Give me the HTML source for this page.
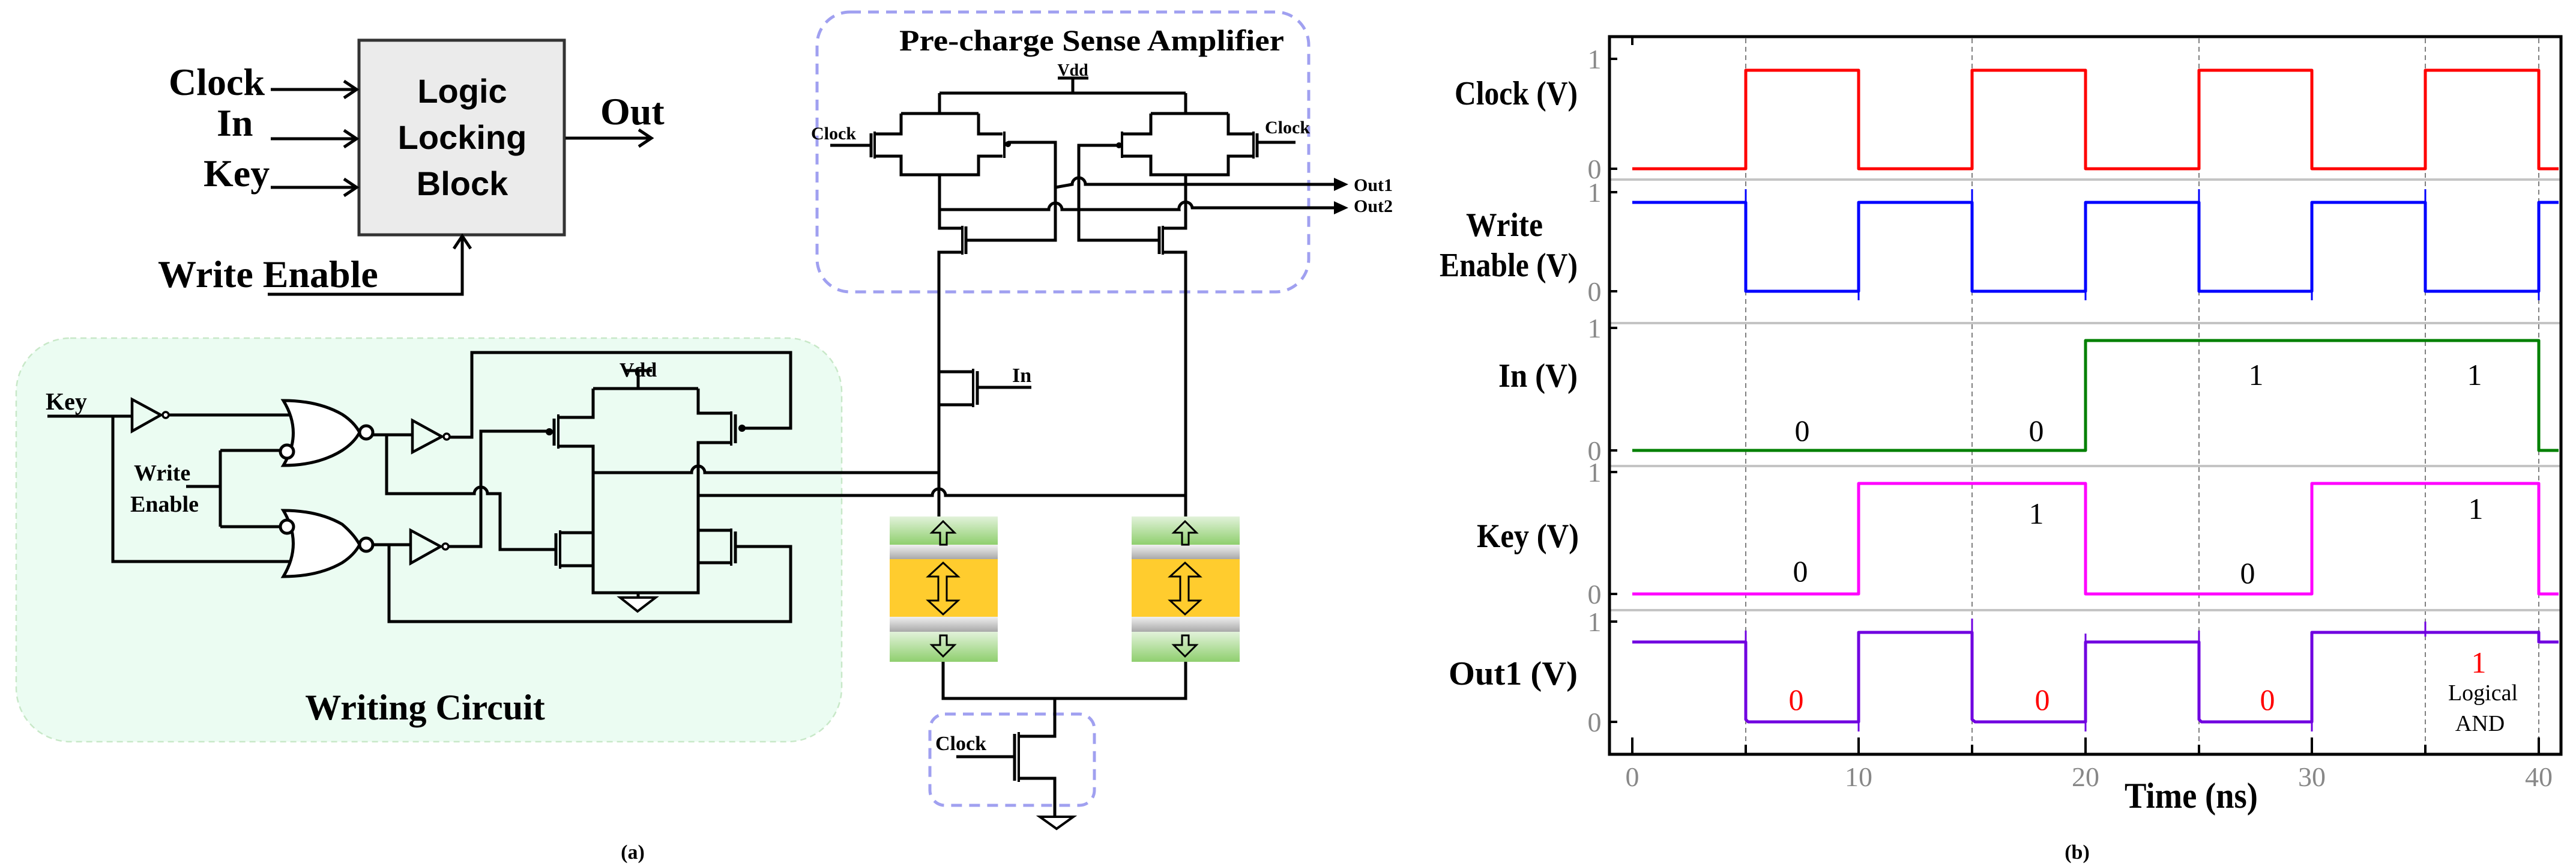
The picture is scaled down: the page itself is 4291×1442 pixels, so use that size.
<!DOCTYPE html>
<html><head><meta charset="utf-8"><style>
html,body{margin:0;padding:0;background:#fff;}
svg{display:block;}
</style></head><body>
<svg width="4291" height="1442" viewBox="0 0 4291 1442" xmlns="http://www.w3.org/2000/svg">
<defs>
<linearGradient id="gg" x1="0" y1="0" x2="0" y2="1"><stop offset="0" stop-color="#e2f2da"/><stop offset="1" stop-color="#8fcf6e"/></linearGradient>
<linearGradient id="gr" x1="0" y1="0" x2="0" y2="1"><stop offset="0" stop-color="#f0f0f0"/><stop offset="1" stop-color="#a8a8a8"/></linearGradient>
</defs>

<!-- ===== Top logic locking block ===== -->
<g font-family="Liberation Serif, serif" font-weight="bold" fill="#000">
<text x="281" y="158" font-size="64">Clock</text>
<text x="361" y="226" font-size="64">In</text>
<text x="339" y="310" font-size="64">Key</text>
<text x="1000" y="207" font-size="64">Out</text>
<text x="263" y="478" font-size="64">Write Enable</text>
</g>
<rect x="598" y="67" width="342" height="324" fill="#ebebeb" stroke="#333" stroke-width="5"/>
<g font-family="Liberation Sans, sans-serif" font-weight="bold" font-size="56" text-anchor="middle">
<text x="770" y="171">Logic</text>
<text x="770" y="248">Locking</text>
<text x="770" y="325">Block</text>
</g>
<g stroke="#000" stroke-width="5" fill="none">
<path d="M451,149 H592"/><path d="M573,135 L594,149 L573,163"/>
<path d="M451,231 H592"/><path d="M573,217 L594,231 L573,245"/>
<path d="M451,312 H592"/><path d="M573,298 L594,312 L573,326"/>
<path d="M942,230 H1083"/><path d="M1064,216 L1085,230 L1064,244"/>
<path d="M446,490 H770 V395"/><path d="M756,414 L770,393 L784,414"/>
</g>

<!-- ===== Writing circuit ===== -->
<rect x="27" y="563" width="1375" height="672" rx="90" fill="#ebfcf2" stroke="#c8e8c8" stroke-width="2.5" stroke-dasharray="10,7"/>
<g font-family="Liberation Serif, serif" font-weight="bold">
<text x="76" y="682" font-size="40">Key</text>
<text x="223" y="800" font-size="38">Write</text>
<text x="217" y="852" font-size="38">Enable</text>
<text x="1063" y="627" font-size="34" text-anchor="middle">Vdd</text>
<text x="708" y="1198" font-size="60" text-anchor="middle">Writing Circuit</text>
<text x="1054" y="1430" font-size="34" text-anchor="middle">(a)</text>
</g>
<g stroke="#000" stroke-width="5" fill="none" stroke-linejoin="miter">
<path d="M79,693 H220"/><path d="M188,693 V935 H493"/>
<path d="M220,665 V718 L268,691 Z" fill="#eafcf1" stroke-width="4.5"/>
<circle cx="276" cy="691" r="5" fill="#fff" stroke-width="3.5"/>
<path d="M282,691 H493"/>
<path d="M310,810 H367"/><path d="M367,750 V877"/><path d="M367,750 H466"/><path d="M367,877 H466"/>
<path d="M472,667 Q530,667 570,690 Q590,703 599,720 Q590,737 570,750 Q530,775 472,775 Q505,721 472,667 Z" fill="#fff"/>
<circle cx="478" cy="752" r="11" fill="#fff"/>
<circle cx="610" cy="720" r="11" fill="#fff"/>
<path d="M472,850 Q530,850 570,873 Q590,890 599,907 Q590,924 570,937 Q530,960 472,960 Q505,905 472,850 Z" fill="#fff"/>
<circle cx="478" cy="877" r="11" fill="#fff"/>
<circle cx="610" cy="907" r="11" fill="#fff"/>
<path d="M621,724 H687"/>
<path d="M687,700 V753 L736,727 Z" fill="#eafcf1" stroke-width="4.5"/>
<circle cx="744" cy="727" r="5" fill="#fff" stroke-width="3.5"/>
<path d="M749,728 H786 V587 H1317 V713 H1240"/>
<circle cx="1236" cy="713" r="6" fill="#000" stroke="none"/>
<path d="M621,907 H684"/>
<path d="M684,883 V938 L734,910 Z" fill="#eafcf1" stroke-width="4.5"/>
<circle cx="742" cy="910" r="5" fill="#fff" stroke-width="3.5"/>
<path d="M747,910 H801 V718 H915"/>
<circle cx="915" cy="719" r="6" fill="#000" stroke="none"/>
<path d="M644,724 V822 H790 A11,11 0 0 1 812,822 H833 V915 H927"/>
<path d="M648,907 V1035 H1317 V910 H1225"/>
<path d="M1040,617 H1086 M1063,617 V647"/>
<path d="M988,647 H1163"/>
<path d="M988,647 V695 H930 M930,743 H988 V987 H1163 V883 H1218 M1218,937 H1163"/>
<path d="M930,690 V747" stroke-width="4"/><path d="M923,697 V742" stroke-width="5"/>
<path d="M988,887 H933 M933,942 H988"/>
<path d="M933,883 V947" stroke-width="4"/><path d="M926,888 V942" stroke-width="5"/>
<path d="M1163,647 V688 H1218 M1218,737 H1163 V883"/>
<path d="M1218,685 V742" stroke-width="4"/><path d="M1225,690 V738" stroke-width="5"/>
<path d="M1218,880 V942" stroke-width="4"/><path d="M1225,885 V938" stroke-width="5"/>
<path d="M1063,987 V995"/>
<path d="M1033,995 H1092 L1062,1018 Z" fill="#fff" stroke-width="4"/>
<path d="M988,787 H1152 A11,11 0 0 1 1174,787 H1564"/>
<path d="M1163,825 H1553 A11,11 0 0 1 1575,825 H1975"/>
</g>

<!-- ===== Pre-charge sense amplifier ===== -->
<rect x="1361" y="20" width="819" height="466" rx="55" fill="none" stroke="#a0a0f0" stroke-width="5" stroke-dasharray="18,12"/>
<rect x="1549" y="1189" width="274" height="152" rx="25" fill="none" stroke="#a0a0f0" stroke-width="5" stroke-dasharray="18,12"/>
<g font-family="Liberation Serif, serif" font-weight="bold">
<text x="1498" y="84" font-size="50" textLength="641" lengthAdjust="spacingAndGlyphs">Pre-charge Sense Amplifier</text>
<text x="1787" y="126" font-size="28" text-anchor="middle">Vdd</text>
<text x="1351" y="232" font-size="30">Clock</text>
<text x="2107" y="222" font-size="30">Clock</text>
<text x="2255" y="318" font-size="30">Out1</text>
<text x="2255" y="353" font-size="30">Out2</text>
<text x="1686" y="636" font-size="34">In</text>
<text x="1558" y="1249" font-size="34">Clock</text>
</g>
<g stroke="#000" stroke-width="5" fill="none">
<path d="M1762,130 H1813 M1787,130 V155"/>
<path d="M1565,155 H1975"/>
<path d="M1565,155 V189 M1501,189 H1630 M1501,189 V223 H1459 M1459,260 H1501 V291 H1630 V260 H1670 M1630,189 V223 H1670"/>
<path d="M1457,219 V264" stroke-width="4"/><path d="M1451,222 V262" stroke-width="5"/>
<path d="M1383,242 H1451"/>
<path d="M1673,219 V263" stroke-width="4"/>
<circle cx="1679" cy="240" r="5" fill="#000" stroke="none"/>
<path d="M1679,237 H1758 V400 H1610"/>
<path d="M1565,291 V380 H1603 M1603,420 H1564 V865"/>
<path d="M1603,376 V424" stroke-width="4"/><path d="M1609,377 V423" stroke-width="5"/>
<path d="M1975,155 V189 M1917,189 H2046 M2046,189 V223 H2086 M2086,260 H2046 V291 H1917 V260 H1871 M1917,189 V223 H1871"/>
<path d="M2088,219 V264" stroke-width="4"/><path d="M2094,222 V262" stroke-width="5"/>
<path d="M2094,237 H2158"/>
<path d="M1869,219 V263" stroke-width="4"/>
<circle cx="1864" cy="242" r="5" fill="#000" stroke="none"/>
<path d="M1864,242 H1797 V400 H1931"/>
<path d="M1975,291 V380 H1937 M1937,420 H1975 V865"/>
<path d="M1937,376 V424" stroke-width="4"/><path d="M1931,377 V423" stroke-width="5"/>
<path d="M1758,312 L1786,307 A11,11 0 0 1 1808,307 H2222"/>
<path d="M2222,296 L2246,307 L2222,318 Z" fill="#000" stroke="none"/>
<path d="M1565,349 H1747 A11,11 0 0 1 1769,349 H1964 A11,11 0 0 1 1986,346 H2222"/>
<path d="M2222,335 L2246,346 L2222,357 Z" fill="#000" stroke="none"/>
<path d="M1564,420 V619 H1619 M1619,674 H1564"/>
<path d="M1621,614 V678" stroke-width="4"/><path d="M1628,618 V674" stroke-width="5"/>
<path d="M1628,645 H1718"/>
<path d="M1571,1102 V1163 H1975 V1102"/>
<path d="M1757,1163 V1226 H1699 M1699,1296 H1757 V1360"/>
<path d="M1697,1219 V1302" stroke-width="4"/><path d="M1690,1222 V1300" stroke-width="5"/>
<path d="M1593,1260 H1690"/>
<path d="M1732,1360 H1788 L1760,1380 Z" fill="#fff" stroke-width="4"/>
</g>
<g id="mtj">
<rect x="1482" y="860" width="180" height="47" fill="url(#gg)"/>
<rect x="1482" y="907" width="180" height="24" fill="url(#gr)"/>
<rect x="1482" y="931" width="180" height="96" fill="#ffcc2e"/>
<rect x="1482" y="1027" width="180" height="25" fill="url(#gr)"/>
<rect x="1482" y="1052" width="180" height="50" fill="url(#gg)"/>
<g fill="none" stroke="#000" stroke-width="3">
<path d="M1566,907 V887 H1552 L1571,868 L1590,887 H1577 V907 Z"/>
<path d="M1571,937 L1596,960 H1577 V1000 H1596 L1571,1023 L1546,1000 H1563 V960 H1546 Z"/>
<path d="M1566,1058 V1074 H1552 L1571,1093 L1590,1074 H1577 V1058 Z"/>
</g>
</g>
<use href="#mtj" transform="translate(403,0)"/>

<!-- ===== Plot (b) ===== -->
<g stroke="#555" stroke-width="1.5" stroke-dasharray="8,6">
<path d="M2908,64 V1254 M3285,64 V1254 M3663,64 V1254 M4040,64 V1254 M4229,64 V1254"/>
</g>
<g stroke="#c4c4c4" stroke-width="4">
<path d="M2683,299 H4264 M2683,538 H4264 M2683,776 H4264 M2683,1016 H4264"/>
</g>
<rect x="2681" y="61" width="1585" height="1195" fill="none" stroke="#000" stroke-width="5"/>
<g stroke="#000" stroke-width="4">
<path d="M2683,98 H2694 M2683,281 H2694 M2683,320 H2694 M2683,485 H2694 M2683,546 H2694 M2683,750 H2694 M2683,786 H2694 M2683,989 H2694 M2683,1035 H2694 M2683,1202 H2694"/>
<path d="M2719,1254 V1228 M2908,1254 V1240 M3096,1254 V1228 M3285,1254 V1240 M3474,1254 V1228 M3663,1254 V1240 M3851,1254 V1228 M4040,1254 V1240 M4229,1254 V1228"/>
<path d="M2719,63 V75"/>
</g>
<g fill="none" stroke-width="5" stroke-linejoin="round">
<path stroke="#ff0000" d="M2719,281 H2908 V117 H3096 V281 H3285 V117 H3474 V281 H3663 V117 H3851 V281 H4040 V117 H4229 V281 H4262"/>
<path stroke="#0000ff" d="M2719,337 H2908 V485 H3096 V337 H3285 V485 H3474 V337 H3663 V485 H3851 V337 H4040 V485 H4229 V337 H4262"/>
<path stroke="#0000ff" stroke-width="3" d="M2908,315 V337 M3096,485 V500 M3285,315 V337 M3474,485 V500 M3663,315 V337 M3851,485 V500 M4040,315 V337 M4229,485 V500"/>
<path stroke="#008000" d="M2719,750 H3474 V567 H4229 V750 H4262"/>
<path stroke="#ff00ff" d="M2719,989 H3096 V805 H3474 V989 H3851 V805 H4229 V989 H4262"/>
<path stroke="#7000e0" d="M2719,1069 H2908 V1198 L2912,1202 H3096 V1053 H3285 V1198 L3290,1202 H3474 V1069 H3663 V1198 L3667,1202 H3851 V1053 H4229 V1069 H4262"/>
<path stroke="#7000e0" stroke-width="3" d="M2908,1050 V1069 M3096,1202 V1218 M3285,1030 V1053 M3474,1202 V1218 M3474,1055 V1069 M3663,1050 V1069 M3851,1202 V1218 M4040,1035 V1060 M4229,1050 V1069"/>
</g>
<g font-family="Liberation Serif, serif" fill="#888" font-size="46" text-anchor="middle">
<text x="2656" y="114">1</text><text x="2656" y="297">0</text>
<text x="2656" y="336">1</text><text x="2656" y="501">0</text>
<text x="2656" y="562">1</text><text x="2656" y="766">0</text>
<text x="2656" y="802">1</text><text x="2656" y="1005">0</text>
<text x="2656" y="1051">1</text><text x="2656" y="1218">0</text>
<text x="2719" y="1309">0</text><text x="3096" y="1309">10</text><text x="3474" y="1309">20</text><text x="3851" y="1309">30</text><text x="4229" y="1309">40</text>
</g>
<g font-family="Liberation Serif, serif" font-weight="bold" font-size="56" text-anchor="end">
<text x="2628" y="174" textLength="205" lengthAdjust="spacingAndGlyphs">Clock (V)</text>
<text x="2570" y="393" textLength="128" lengthAdjust="spacingAndGlyphs">Write</text>
<text x="2628" y="460" textLength="230" lengthAdjust="spacingAndGlyphs">Enable (V)</text>
<text x="2628" y="644" textLength="132" lengthAdjust="spacingAndGlyphs">In (V)</text>
<text x="2630" y="911" textLength="170" lengthAdjust="spacingAndGlyphs">Key (V)</text>
<text x="2628" y="1140" textLength="215" lengthAdjust="spacingAndGlyphs">Out1 (V)</text>
</g>
<text x="3650" y="1345" font-family="Liberation Serif, serif" font-weight="bold" font-size="60" text-anchor="middle" textLength="222" lengthAdjust="spacingAndGlyphs">Time (ns)</text>
<text x="3460" y="1430" font-family="Liberation Serif, serif" font-weight="bold" font-size="34" text-anchor="middle">(b)</text>
<g font-family="Liberation Serif, serif" font-size="50" text-anchor="middle">
<text x="3002" y="734">0</text><text x="3392" y="734">0</text><text x="3758" y="641">1</text><text x="4122" y="641">1</text>
<text x="2999" y="968">0</text><text x="3392" y="872">1</text><text x="3744" y="971">0</text><text x="4124" y="864">1</text>
<g fill="#ff0000"><text x="2992" y="1182">0</text><text x="3402" y="1182">0</text><text x="3777" y="1182">0</text><text x="4129" y="1120">1</text></g>
<text x="4136" y="1166" font-size="38">Logical</text>
<text x="4131" y="1217" font-size="38">AND</text>
</g>
</svg>
</body></html>
